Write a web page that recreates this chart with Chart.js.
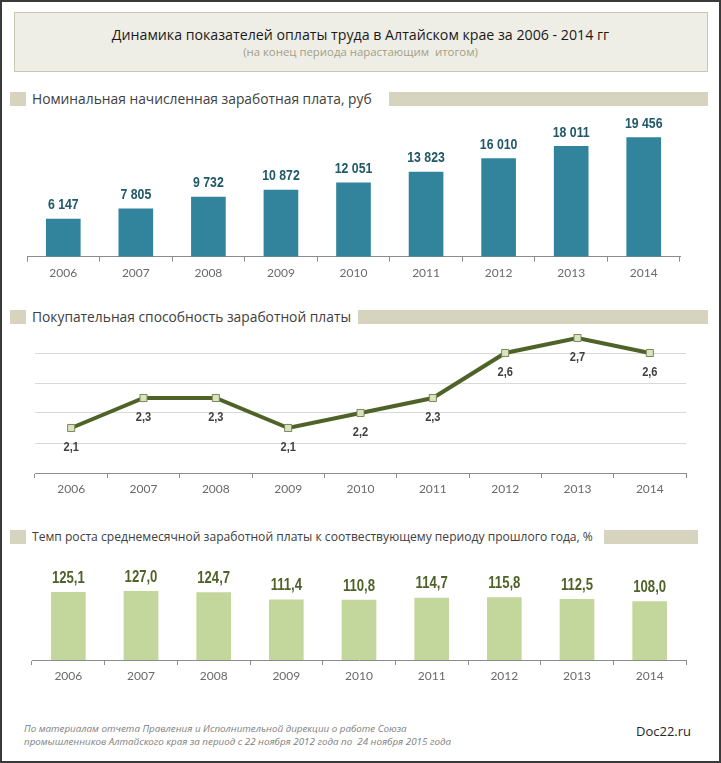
<!DOCTYPE html>
<html lang="ru">
<head>
<meta charset="utf-8">
<title>Динамика показателей оплаты труда</title>
<script src="https://cdn.jsdelivr.net/npm/chart.js@4.4.1/dist/chart.umd.min.js"></script>
<style>
  html, body { margin: 0; padding: 0; background: #fff; }
  #page { position: relative; width: 721px; height: 763px; overflow: hidden; font-family: "Open Sans", sans-serif; }
  #frame { position: absolute; left: 0; top: 0; width: 721px; height: 763px; box-sizing: border-box; border: 2px solid #3a3a3a; pointer-events: none; z-index: 5; }
  .titlebox { position: absolute; left: 14px; top: 12px; width: 694px; height: 60px; box-sizing: border-box; background: #efeee6; border: 1px solid #c9c7b2; }
  .t { position: absolute; white-space: nowrap; line-height: 1; transform: translateY(-50%); }
  .sq, .bar { position: absolute; background: #d6d4bf; }
  .chartbox { position: absolute; left: 0; width: 721px; }
</style>
</head>
<body>
<div id="page">
  <div class="titlebox"></div>
  <div class="t" style="left:0;width:721px;text-align:center;top:35px;font-size:14.2px;color:#1a1a1a;">Динамика показателей оплаты труда в Алтайском крае за 2006 - 2014 гг</div>
  <div class="t" style="left:0;width:721px;text-align:center;top:52px;font-size:11.4px;color:#a19f87;">(на конец периода нарастающим &nbsp;итогом)</div>

  <div class="sq" style="left:10px;top:92px;width:16px;height:14px;"></div>
  <div class="t" style="left:32px;top:99px;font-size:13.8px;color:#404040;">Номинальная начисленная заработная плата, руб</div>
  <div class="bar" style="left:389px;top:92px;width:319px;height:14px;"></div>

  <div class="sq" style="left:10px;top:310px;width:16px;height:14px;"></div>
  <div class="t" style="left:32px;top:317px;font-size:13.8px;color:#404040;">Покупательная способность заработной платы</div>
  <div class="bar" style="left:358px;top:310px;width:350px;height:14px;"></div>

  <div class="sq" style="left:10px;top:530px;width:16px;height:14px;"></div>
  <div class="t" style="left:32px;top:537px;font-size:12.1px;color:#404040;">Темп роста среднемесячной заработной платы к соотвествующему периоду прошлого года, %</div>
  <div class="bar" style="left:604px;top:530px;width:94px;height:14px;"></div>

  <div class="chartbox" style="top:100px;height:187px;"><canvas id="wageChart"></canvas></div>
  <div class="chartbox" style="top:300px;height:204px;"><canvas id="powerChart"></canvas></div>
  <div class="chartbox" style="top:540px;height:151px;"><canvas id="growthChart"></canvas></div>

  <div class="t" style="left:24px;top:729px;font-size:9.8px;font-style:italic;color:#808080;">По материалам отчета Правления и Исполнительной дирекции о работе Союза</div>
  <div class="t" style="left:24px;top:742px;font-size:9.8px;font-style:italic;color:#808080;">промышленников Алтайского края за период с 22 ноября 2012 года по &nbsp;24 ноября 2015 года</div>
  <div class="t" style="left:636px;top:731px;font-size:13px;color:#262626;">Doc22.ru</div>
  <div id="frame"></div>
</div>

<script>
const years = ['2006', '2007', '2008', '2009', '2010', '2011', '2012', '2013', '2014'];
const nominalWage = [6147, 7805, 9732, 10872, 12051, 13823, 16010, 18011, 19456];
const purchasingPower = [2.1, 2.3, 2.3, 2.1, 2.2, 2.3, 2.6, 2.7, 2.6];
const growthRate = [125.1, 127.0, 124.7, 111.4, 110.8, 114.7, 115.8, 112.5, 108.0];

const labelFont = '"Liberation Sans", Arial, sans-serif';
const tickFont = { family: 'Lato, "Open Sans", sans-serif', size: 12 };

// draws the value above/below each point, like excel data labels
// (text squeezed horizontally to get the Arial Narrow look)
function valueLabels(format, font, color, offset) {
    return {
        id: 'valueLabels',
        afterDatasetsDraw(chart) {
            const ctx = chart.ctx;
            const values = chart.data.datasets[0].data;
            ctx.save();
            ctx.font = font;
            ctx.fillStyle = color;
            ctx.textAlign = 'center';
            ctx.textBaseline = 'middle';
            chart.getDatasetMeta(0).data.forEach((el, i) => {
                ctx.save();
                ctx.translate(el.x, el.y + offset);
                ctx.scale(0.82, 1);
                ctx.fillText(format(values[i]), 0, 0);
                ctx.restore();
            });
            ctx.restore();
        }
    };
}

const thousands = v => String(v).replace(/\B(?=(\d{3})+(?!\d))/g, ' ');
const comma = v => v.toFixed(1).replace('.', ',');

function xAxis() {
    return {
        offset: true,
        grid: { offset: true, drawOnChartArea: false, tickLength: 5, color: '#8c8c8c' },
        border: { color: '#8c8c8c' },
        ticks: { color: '#6a6a6a', font: tickFont, padding: 4, maxRotation: 0 }
    };
}

Chart.defaults.animation = false;

/* Nominal wage bars */
new Chart(document.getElementById('wageChart'), {
    type: 'bar',
    data: {
        labels: years,
        datasets: [{ data: nominalWage, backgroundColor: '#31849b', barThickness: 34 }]
    },
    options: {
        responsive: true,
        maintainAspectRatio: false,
        layout: { padding: { left: 27, right: 41, top: 22, bottom: 3 } },
        plugins: { legend: { display: false }, tooltip: { enabled: false } },
        scales: {
            x: xAxis(),
            y: { display: false, min: 0, max: 22000 }
        }
    },
    plugins: [valueLabels(thousands, 'bold 15px ' + labelFont, '#215968', -14)]
});

/* Purchasing power line */
new Chart(document.getElementById('powerChart'), {
    type: 'line',
    data: {
        labels: years,
        datasets: [{
            data: purchasingPower,
            borderColor: '#4f6228',
            borderWidth: 4,
            tension: 0,
            clip: false,
            pointStyle: 'rect',
            pointRadius: 5,
            pointBackgroundColor: '#d7e4bd',
            pointBorderColor: '#7d8658',
            pointBorderWidth: 1
        }]
    },
    options: {
        responsive: true,
        maintainAspectRatio: false,
        layout: { padding: { left: 35, right: 35, top: 23, bottom: 3.6 } },
        plugins: { legend: { display: false }, tooltip: { enabled: false } },
        scales: {
            x: xAxis(),
            y: {
                min: 1.8,
                max: 2.8,
                ticks: { display: false, stepSize: 0.2 },
                border: { display: false },
                grid: {
                    drawTicks: false,
                    color: c => (c.tick && c.tick.value > 1.85 && c.tick.value < 2.75) ? '#d9d9d9' : 'rgba(0,0,0,0)'
                }
            }
        }
    },
    plugins: [valueLabels(comma, 'bold 13.5px ' + labelFont, '#404040', 19)]
});

/* Growth rate bars */
new Chart(document.getElementById('growthChart'), {
    type: 'bar',
    data: {
        labels: years,
        datasets: [{ data: growthRate, backgroundColor: '#c3d69b', barThickness: 34 }]
    },
    options: {
        responsive: true,
        maintainAspectRatio: false,
        layout: { padding: { left: 32, right: 35, top: 39, bottom: 3.6 } },
        plugins: { legend: { display: false }, tooltip: { enabled: false } },
        scales: {
            x: xAxis(),
            y: { display: false, min: 0, max: 150 }
        }
    },
    plugins: [valueLabels(comma, 'bold 16px ' + labelFont, '#4f6228', -14)]
});
</script>
</body>
</html>
